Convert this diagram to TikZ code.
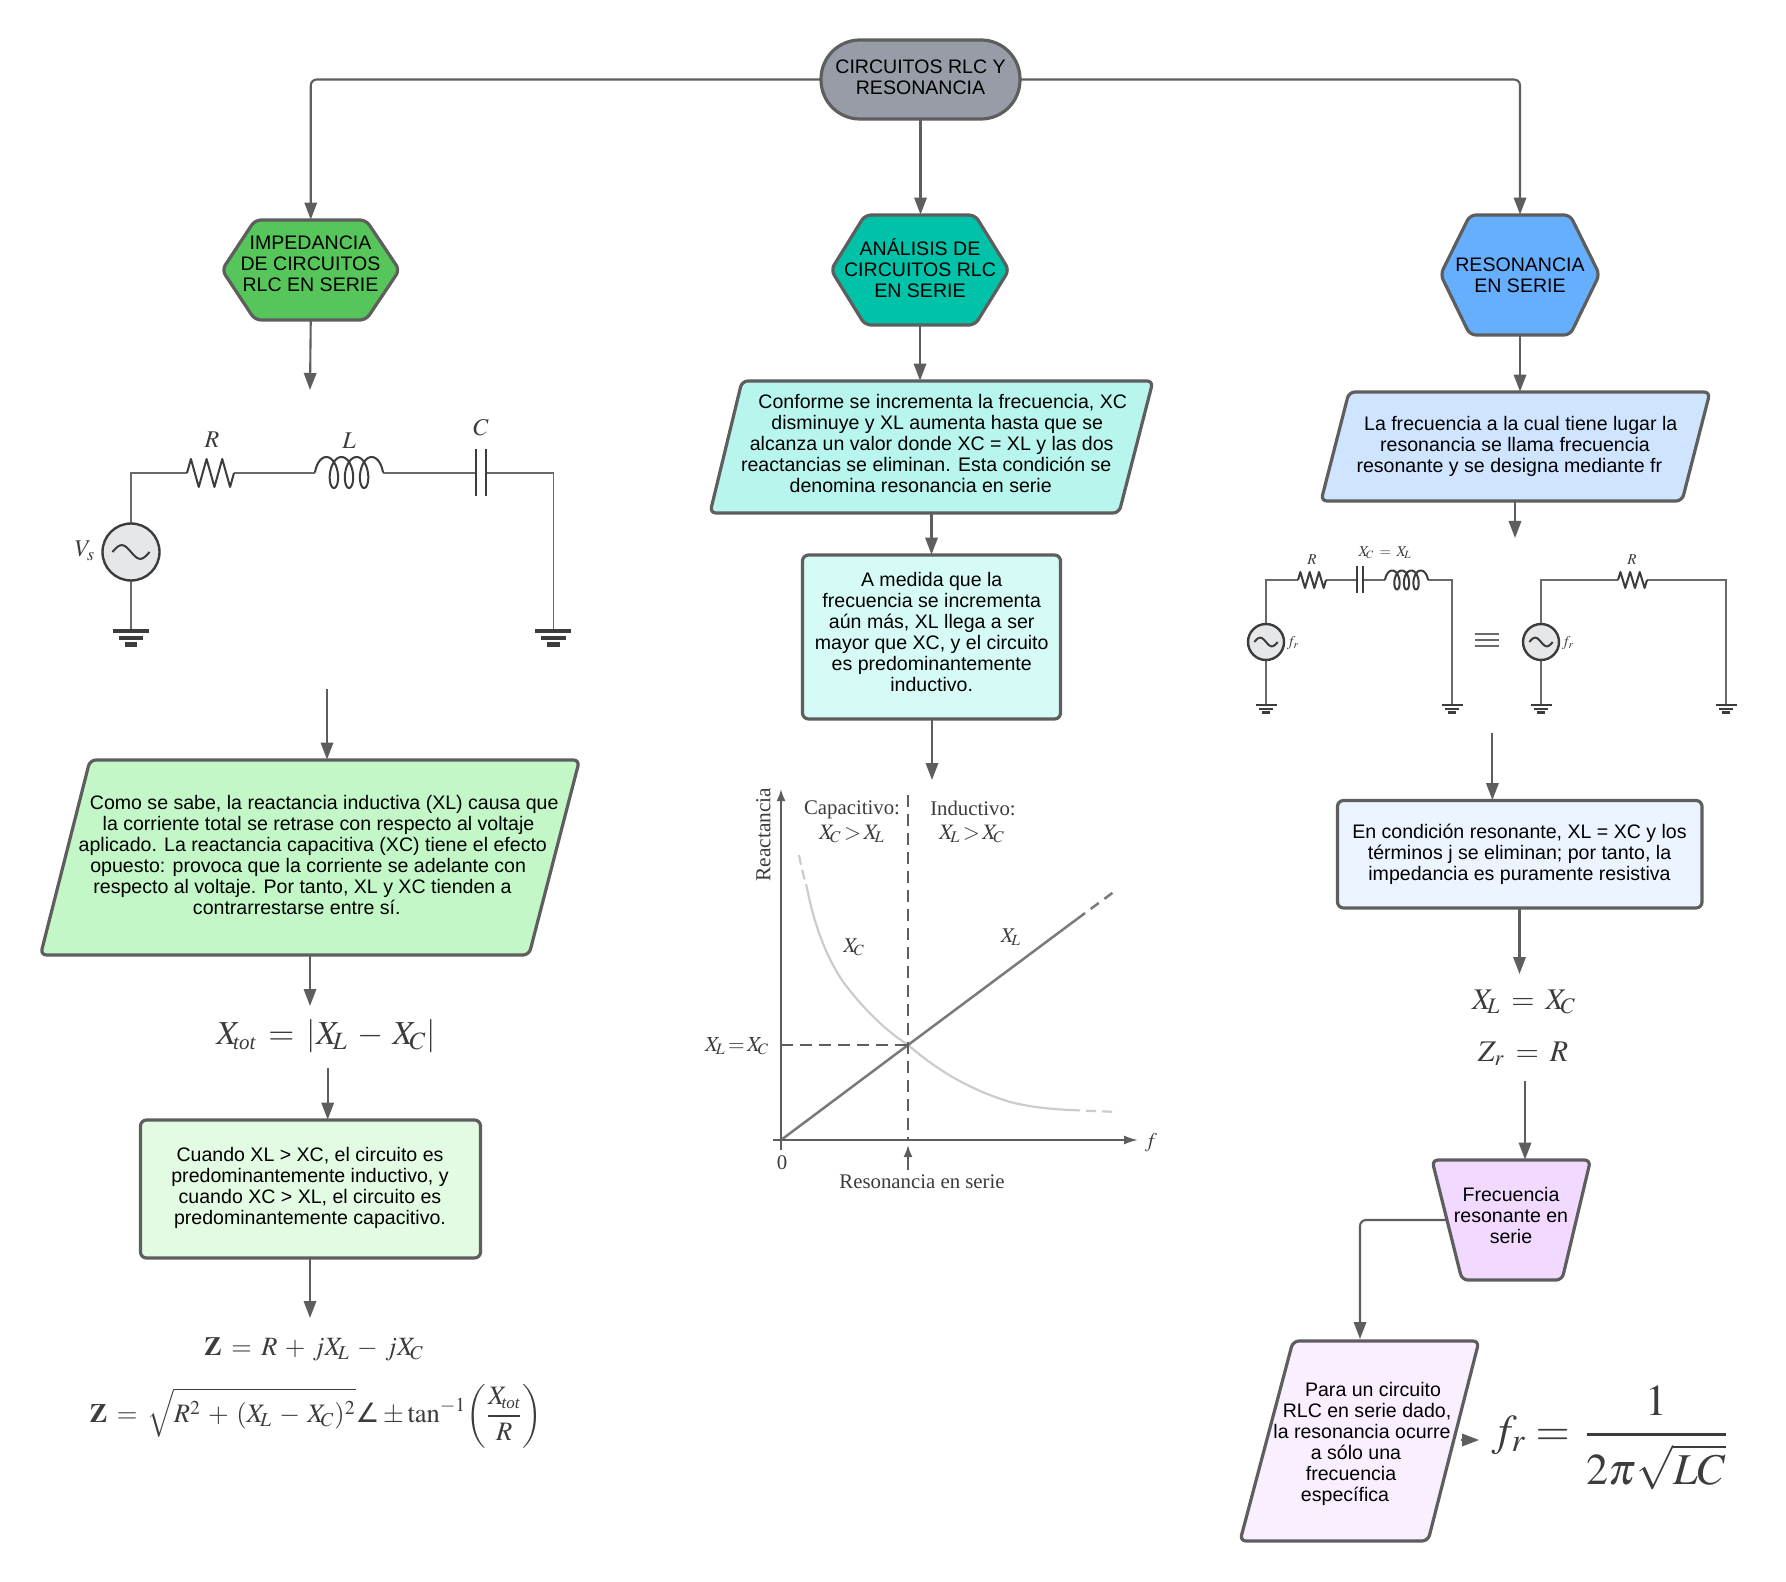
\documentclass[tikz,border=0pt]{standalone}
\usepackage{mathptmx}
\usepackage{fontspec}
\setmainfont{Liberation Sans}
\newfontfamily\serifx{Liberation Serif}
\newfontfamily\djv{DejaVu Sans}
\usetikzlibrary{arrows.meta,fit,calc}
\definecolor{lin}{HTML}{5E5E5E}
\definecolor{ink}{HTML}{3C3C3C}
\definecolor{wire}{HTML}{6A6A6A}
\definecolor{srcfill}{HTML}{E6E7E9}
\definecolor{cRoot}{HTML}{979CA6}
\definecolor{cHexA}{HTML}{56C65A}
\definecolor{cHexB}{HTML}{00C2A8}
\definecolor{cHexC}{HTML}{66AFFF}
\definecolor{cParaA}{HTML}{C3F7C8}
\definecolor{cBoxA}{HTML}{E3FAE3}
\definecolor{cParaB}{HTML}{B8F5ED}
\definecolor{cBoxB}{HTML}{D6FAF5}
\definecolor{cParaC}{HTML}{CFE4FF}
\definecolor{cBoxC}{HTML}{EBF4FF}
\definecolor{cTrap}{HTML}{F2D9FF}
\definecolor{cParaD}{HTML}{F9EFFF}
\tikzset{
  outl/.style={draw=lin,line width=1.6pt,rounded corners=3pt,line join=round},
  conn/.style={draw=lin,line width=1.05pt,rounded corners=3pt,-{Triangle[length=8.5pt,width=6.2pt]}},
  txt/.style={font=\fontsize{9.78}{10.5}\selectfont,align=center,inner sep=0pt,text=black},
  fml/.style={inner sep=0pt,text=ink},
  wr/.style={draw=wire,line width=0.85pt},
  blk/.style={draw=ink,line width=1pt,line join=round},
  lab/.style={inner sep=0pt,text=ink,font=\serifx\fontsize{10.4}{12}\selectfont},
  ax/.style={draw=lin,line width=1pt},
  xlline/.style={draw=black!52,line width=1.25pt},
  xcline/.style={draw=black!20,line width=1.1pt},
  dsh/.style={draw=lin,line width=1pt,dash pattern=on 6pt off 3.5pt},
}
% Shape: name, fill, path, corner coordinates for the invisible named bounding node
\newcommand\Shape[5][]{\draw[outl,fill=#3,#1] #4;\node[fit={#5},inner sep=0pt] (#2) {};}
\newcommand\sh[2]{\mbox{\kern#1pt #2\kern-#1pt}}
\newcommand\tot[1]{\mbox{\fontsize{#1}{#1}\serifx\itshape tot}}
\newcommand\Res[4]{% x1 x2 y amp
  \pgfmathsetmacro\ww{(#2-#1)/12}
  \draw[blk] (#1,#3) -- ++(\ww,-#4) -- ++(2*\ww,2*#4) -- ++(2*\ww,-2*#4) -- ++(2*\ww,2*#4) -- ++(2*\ww,-2*#4) -- ++(2*\ww,2*#4) -- ++(\ww,-#4);}
\newcommand\Coil[4]{% x1 x2 yc A
  \pgfmathsetmacro\ww{#2-#1}
  \draw[blk] plot[domain=-90:1170,samples=150] ({#1+\ww*(0.1115+0.777*(\x+90)/1260+0.1115*sin(\x))},{#3-#4*cos(\x)});}
\newcommand\Src[3]{% cx cy r
  \draw[draw=ink,line width=1.2pt,fill=srcfill] (#1,#2) circle[radius=#3];
  \pgfmathsetmacro\rr{0.65*#3}
  \draw[blk] plot[domain=-1:1,samples=30] ({#1+\rr*\x},{#2+0.24*#3*sin(180*\x)});}
\newcommand\Gnd[3]{% x y halfwidth
  \draw[draw=ink,line width=#3*0.125pt] (#1-#3,#2) -- (#1+#3,#2);
  \draw[draw=ink,line width=#3*0.125pt] (#1-#3*0.68,#2+#3*0.38) -- (#1+#3*0.68,#2+#3*0.38);
  \draw[draw=ink,line width=#3*0.125pt] (#1-#3*0.34,#2+#3*0.74) -- (#1+#3*0.34,#2+#3*0.74);}
\begin{document}
\begin{tikzpicture}[x=0.5pt,y=-0.5pt]
\useasboundingbox[fill=white] (0,0) rectangle (1786,1582);

% ---------- shapes
\Shape[rounded corners=19.5pt]{root}{cRoot}{(821,40) rectangle (1020,119)}{(821,40)(1020,119)}
\node[txt] (rootT) at (920.5,77.5) {CIRCUITOS RLC Y\\RESONANCIA};

\Shape{hexa}{cHexA}{(255,220)--(366,220)--(399.5,270)--(366,320)--(255,320)--(222,270)--cycle}{(222,220)(399.5,320)}
\node[txt] (hexaT) at (310.5,264) {IMPEDANCIA\\DE CIRCUITOS\\RLC EN SERIE};
\Shape{hexb}{cHexB}{(865,215)--(975,215)--(1009,270)--(975,325)--(865,325)--(831,270)--cycle}{(831,215)(1009,325)}
\node[txt] (hexbT) at (920,268) {ANÁLISIS DE\\CIRCUITOS RLC\\EN SERIE};
\Shape{hexc}{cHexC}{(1470,215)--(1570,215)--(1599.5,274.5)--(1570,335)--(1470,335)--(1440.5,274.5)--cycle}{(1440.5,215)(1599.5,335)}
\node[txt] (hexcT) at (1520,275) {RESONANCIA\\EN SERIE};

\Shape{paraa}{cParaA}{(90,760)--(579.5,760)--(529,955)--(40.5,955)--cycle}{(40.5,760)(579.5,955)}
\node[txt] (paraaT) at (310.5,855.5) {\sh{6.85}{Como se sabe, la reactancia inductiva (XL) causa que}\\\sh{4}{la corriente total se retrase con respecto al voltaje}\\\sh{1.15}{aplicado. La reactancia capacitiva (XC) tiene el efecto}\\\sh{-1.15}{opuesto: provoca que la corriente se adelante con}\\\sh{-4}{respecto al voltaje. Por tanto, XL y XC tienden a}\\\sh{-6.85}{contrarrestarse entre sí.}};

\Shape{boxa}{cBoxA}{(140.5,1120) rectangle (480.5,1258)}{(140.5,1120)(480.5,1258)}
\node[txt] (boxaT) at (310,1188) {Cuando XL > XC, el circuito es\\predominantemente inductivo, y\\cuando XC > XL, el circuito es\\predominantemente capacitivo.};

\Shape{parab}{cParaB}{(742,381)--(1153,381)--(1119,513)--(710,513)--cycle}{(710,381)(1153,513)}
\node[txt] (parabT) at (931.7,443.5) {\sh{5.5}{Conforme se incrementa la frecuencia, XC}\\\sh{2.75}{disminuye y XL aumenta hasta que se}\\alcanza un valor donde XC = XL y las dos\\\sh{-2.75}{reactancias se eliminan. Esta condición se}\\\sh{-5.5}{denomina resonancia en serie}};

\Shape{boxb}{cBoxB}{(802.5,555) rectangle (1060.5,719)}{(802.5,555)(1060.5,719)}
\node[txt] (boxbT) at (931.7,632) {A medida que la\\frecuencia se incrementa\\aún más, XL llega a ser\\mayor que XC, y el circuito\\es predominantemente\\inductivo.};

\Shape{parac}{cParaC}{(1349,392)--(1710,392)--(1682,501)--(1321,501)--cycle}{(1321,392)(1710,501)}
\node[txt] (paracT) at (1515,446.5) {\sh{2.85}{La frecuencia a la cual tiene lugar la}\\resonancia se llama frecuencia\\\sh{-2.85}{resonante y se designa mediante fr}};

\Shape{boxc}{cBoxC}{(1337.5,800.5) rectangle (1702,908)}{(1337.5,800.5)(1702,908)}
\node[txt] (boxcT) at (1519.5,854) {En condición resonante, XL = XC y los\\términos j se eliminan; por tanto, la\\impedancia es puramente resistiva};

\Shape{trap}{cTrap}{(1432,1160)--(1590.5,1160)--(1562,1280)--(1462,1280)--cycle}{(1432,1160)(1590.5,1280)}
\node[txt] (trapT) at (1511,1215.5) {Frecuencia\\resonante en\\serie};

\Shape{parad}{cParaD}{(1293,1341)--(1479,1341)--(1428,1541)--(1240,1541)--cycle}{(1240,1341)(1479,1541)}
\node[txt] (paradT) at (1359,1444) {\sh{7}{Para un circuito}\\\sh{4}{RLC en serie dado,}\\\sh{1.5}{la resonancia ocurre}\\\sh{-1.5}{a sólo una}\\\sh{-4}{frecuencia}\\\sh{-7}{específica}};

% ---------- formulas
\node[fml,font=\fontsize{16.8}{18}\selectfont] (fxtot) at (326,1036) {$X_{\!\tot{10.5}}\:=\:\left|X_{\!L}\:-\:X_{\!C}\right|$};
\node[fml,font=\fontsize{13.2}{16}\selectfont] (fza) at (314,1349) {$\mathbf{Z}\:=\:R\:+\:jX_{\!L}\:-\:jX_{\!C}$};
\node[fml,font=\fontsize{13.3}{16}\selectfont] (fzb) at (316,1416) {$\displaystyle\mathbf{Z}\:=\:\sqrt{R^2\:+\:(X_{\!L}\:-\:X_{\!C})^2}\mbox{\djv ∠}\pm\tan^{-1}\!\left(\frac{X_{\!\tot{8.5}}}{R}\right)$};
\node[fml,font=\fontsize{15}{18}\selectfont] (fxl) at (1524,1002) {$X_{\!L}\:=\:X_{\!C}$};
\node[fml,font=\fontsize{15}{18}\selectfont] (fzr) at (1523,1054) {$Z_r\:=\:R$};
\node[fml,font=\fontsize{22}{24}\selectfont] (ffr) at (1610,1438) {$\displaystyle f_r=\,{1\above 1.4pt 2\pi\sqrt{LC}}$};

% ---------- circuit 1
\coordinate (aa) at (131,473);
\draw[wr] (131,524) -- (aa) -- (187,473);
\draw[wr] (234,473) -- (315,473);
\draw[wr] (383,473) -- (475.5,473);
\draw[wr] (486,473) -- (553.4,473) -- (553.4,631);
\draw[wr] (131,580) -- (131,631);
\Res{187}{234}{473}{14}
\Coil{315}{383}{472.5}{15.5}
\draw[blk] (475.5,449) -- (475.5,496);
\draw[blk] (486,449) -- (486,496);
\Src{131}{552}{28.5}
\Gnd{131}{631}{18}
\Gnd{553.4}{631}{18}
\node[fml,font=\fontsize{12}{14}\selectfont] (lR) at (212,440) {$R$};
\node[fml,font=\fontsize{12}{14}\selectfont] (lL) at (349,441) {$L$};
\node[fml,font=\fontsize{12}{14}\selectfont] (lC) at (481,428) {$C$};
\node[fml,font=\fontsize{12}{14}\selectfont] (lV) at (85,551) {$V_s$};

% ---------- circuit 2 (left)
\draw[wr] (1266,624) -- (1266,580) -- (1298,580);
\draw[wr] (1326,580) -- (1356.5,580);
\draw[wr] (1363,580) -- (1385,580);
\draw[wr] (1428,580) -- (1452,580) -- (1452,705);
\draw[wr] (1266,660) -- (1266,705);
\Res{1298}{1326}{580}{8}
\Coil{1385}{1428}{580}{9.5}
\draw[blk] (1356.5,566) -- (1356.5,593);
\draw[blk] (1363,566) -- (1363,593);
\Src{1266}{642}{18}
\Gnd{1266}{705}{10.5}
\Gnd{1452}{705}{10.5}
\node[fml,font=\fontsize{7.5}{9}\selectfont] (lR2) at (1312,560) {$R$};
\node[fml,font=\fontsize{7.5}{9}\selectfont] (lXX) at (1385,553) {$X_{\!C}\:=\:X_{\!L}$};
\node[fml,font=\fontsize{7.5}{9}\selectfont] (lF2) at (1293,643) {$f_r$};
\draw[wr] (1475,634) -- (1498.5,634);
\draw[wr] (1475,640) -- (1498.5,640);
\draw[wr] (1475,646) -- (1498.5,646);

% ---------- circuit 3 (right)
\draw[wr] (1541,624) -- (1541,580) -- (1618,580);
\draw[wr] (1647,580) -- (1726,580) -- (1726,705);
\draw[wr] (1541,660) -- (1541,705);
\Res{1618}{1647}{580}{8}
\Src{1541}{642}{18}
\Gnd{1541}{705}{10.5}
\Gnd{1726}{705}{10.5}
\node[fml,font=\fontsize{7.5}{9}\selectfont] (lR3) at (1632,560) {$R$};
\node[fml,font=\fontsize{7.5}{9}\selectfont] (lF3) at (1568,643) {$f_r$};

% ---------- graph
\draw[xcline,dash pattern=on 5pt off 2.5pt] (799,855) .. controls (801,866) and (804,878) .. (807,888);
\draw[xcline] (807,888) .. controls (815,930) and (830,965) .. (847,987)
   .. controls (865,1010) and (885,1030) .. (908,1045)
   .. controls (935,1068) and (965,1088) .. (1010,1102)
   .. controls (1030,1107) and (1050,1109) .. (1070,1110);
\draw[xcline,dash pattern=on 5pt off 3pt] (1070,1110) -- (1118,1112);
\draw[xlline] (781,1140) -- (908,1045) -- (1077,919);
\draw[xlline,dash pattern=on 5pt off 3.5pt] (1077,919) -- (1115,891);
\draw[ax,-{Latex[length=6pt,width=4.5pt]}] (781,1150) -- (781,789);
\draw[ax,-{Latex[length=7pt,width=4.5pt]}] (773,1140) -- (1138,1140);
\draw[dsh] (908,795) -- (908,1140);
\draw[dsh] (781,1045) -- (908,1045);
\draw[ax,-{Latex[length=6pt,width=4.5pt]}] (908,1170) -- (908,1145);
\node[lab,rotate=90,font=\serifx\fontsize{10.7}{12}\selectfont] (gR) at (763.5,834.5) {Reactancia};
\node[lab] (gCa) at (852,810) {Capacitivo:};
\node[fml,font=\fontsize{11}{12}\selectfont] (gCb) at (852,834) {$X_{\!C}\!>\!X_{\!L}$};
\node[lab] (gIa) at (973,808) {Inductivo:};
\node[fml,font=\fontsize{11}{12}\selectfont] (gIb) at (972,834) {$X_{\!L}\!>\!X_{\!C}$};
\node[fml,font=\fontsize{10.5}{12}\selectfont] (gXC) at (854,947) {$X_{\!C}$};
\node[fml,font=\fontsize{10.5}{12}\selectfont] (gXL) at (1011,937) {$X_{\!L}$};
\node[fml,font=\fontsize{10.7}{12}\selectfont] (gEq) at (737,1046) {$X_{\!L}\!=\!X_{\!C}$};
\node[fml,font=\fontsize{10.5}{12}\selectfont] (gF) at (1151,1143) {$f$};
\node[lab] (gZ) at (782,1163) {0};
\node[lab] (gRes) at (922,1182) {Resonancia en serie};

% ---------- connectors
\coordinate (cirTop) at (310,390);
\coordinate (cirOut) at (327,689);
\coordinate (xtotOut) at (327.7,1068);
\coordinate (zTop) at (310,1318);
\coordinate (xaTop) at (310,1006);
\coordinate (graphTop) at (932,780);
\coordinate (cirRTop) at (1515,538);
\coordinate (cirROut) at (1492.4,733);
\coordinate (xrTop) at (1519.5,974);
\coordinate (zrOut) at (1525,1081);
\coordinate (parEdge) at (1461,1440);
\coordinate (parTip) at (1479,1440);
\coordinate (trapEdge) at (1446.5,1220);
\coordinate (paraX) at (1360,1339);
\draw[conn] (root.west) -| (hexa.north);
\draw[conn] (root.south) -- (root.south |- hexb.north);
\draw[conn] (root.east) -| (hexc.north);
\draw[conn] (hexa.south) -- (cirTop);
\draw[conn] (cirOut) -- (cirOut |- paraa.north);
\draw[conn] (paraa.south -| xaTop) -- (xaTop);
\draw[conn] (xtotOut) -- (xtotOut |- boxa.north);
\draw[conn] (boxa.south -| zTop) -- (zTop);
\draw[conn] (hexb.south) -- (hexb.south |- parab.north);
\draw[conn] (boxb.north |- parab.south) -- (boxb.north);
\draw[conn] (boxb.south -| graphTop) -- (graphTop);
\draw[conn] (hexc.south) -- (hexc.south |- parac.north);
\draw[conn] (parac.south -| cirRTop) -- (cirRTop);
\draw[conn] (cirROut) -- (cirROut |- boxc.north);
\draw[conn] (boxc.south -| xrTop) -- (xrTop);
\draw[conn] (zrOut) -- (zrOut |- trap.north);
\draw[conn] (trapEdge) -| (paraX);
\draw[conn] (parEdge) -- (parTip);
\end{tikzpicture}
\end{document}
